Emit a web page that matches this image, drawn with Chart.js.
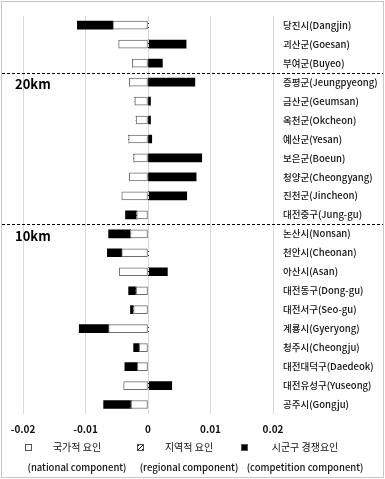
<!DOCTYPE html>
<html>
<head>
<meta charset="utf-8">
<script src="https://cdn.jsdelivr.net/npm/chart.js@4"></script>
<style>
  html, body { margin: 0; padding: 0; background: #fff; }
  #wrap { position: relative; width: 385px; height: 479px; }
</style>
</head>
<body>
<div id="wrap"><canvas id="chart"></canvas></div>
<script>
// data
const regions = [
  "당진시(Dangjin)", "괴산군(Goesan)", "부여군(Buyeo)", "증평군(Jeungpyeong)",
  "금산군(Geumsan)", "옥천군(Okcheon)", "예산군(Yesan)", "보은군(Boeun)",
  "청양군(Cheongyang)", "진천군(Jincheon)", "대전중구(Jung-gu)", "논산시(Nonsan)",
  "천안시(Cheonan)", "아산시(Asan)", "대전동구(Dong-gu)", "대전서구(Seo-gu)",
  "계룡시(Gyeryong)", "청주시(Cheongju)", "대전대덕구(Daedeok)", "대전유성구(Yuseong)",
  "공주시(Gongju)"
];
const national = [
  -0.0056, -0.0047, -0.0025, -0.0030, -0.0021, -0.0019, -0.0031, -0.0023,
  -0.0030, -0.0042, -0.0018, -0.0028, -0.0042, -0.0046, -0.0019, -0.0023,
  -0.0063, -0.0014, -0.0017, -0.0039, -0.0027
];
const regional = [
  0.0001, 0.0001, 0, 0, 0, 0, 0, 0,
  0, 0.0001, 0, 0, 0.0001, 0.0001, 0, 0,
  0.0001, 0, 0, 0.0001, 0
];
const competition = [
  -0.0057, 0.0060, 0.0023, 0.0075, 0.0004, 0.0004, 0.0006, 0.0086,
  0.0077, 0.0061, -0.0018, -0.0035, -0.0023, 0.0030, -0.0012, -0.0005,
  -0.0047, -0.0009, -0.0020, 0.0037, -0.0044
];
const xTicks = [-0.02, -0.01, 0, 0.01, 0.02];
const groupBreaks = [2.5, 10.5];
const groupLabels = [["20km", 3], ["10km", 11]];
const legendKo = ["국가적 요인", "지역적 요인", "시군구 경쟁요인"];
const legendEn = ["(national component)", "(regional component)", "(competition component)"];

const FONT = "'Noto Sans CJK KR', 'Noto Sans', sans-serif";

// hatch fill for the regional component
function makeHatch() {
  const c = document.createElement("canvas");
  c.width = 4; c.height = 4;
  const g = c.getContext("2d");
  g.fillStyle = "#fff";
  g.fillRect(0, 0, 4, 4);
  g.strokeStyle = "#000";
  g.lineWidth = 1;
  g.beginPath();
  g.moveTo(0, 4); g.lineTo(4, 0);
  g.stroke();
  return g.createPattern(c, "repeat");
}
const hatch = makeHatch();

const extras = {
  id: "extras",
  afterDraw(chart) {
    const ctx = chart.ctx;
    const y = chart.scales.y;
    ctx.save();
    // outer frame
    ctx.strokeStyle = "#c8c8c8";
    ctx.lineWidth = 1;
    ctx.strokeRect(1.5, 1.5, 382, 476);
    // group separators
    ctx.strokeStyle = "#000";
    ctx.setLineDash([3, 2]);
    groupBreaks.forEach(b => {
      const py = Math.round(y.getPixelForValue(b)) + 0.5;
      ctx.beginPath();
      ctx.moveTo(2, py);
      ctx.lineTo(383, py);
      ctx.stroke();
    });
    ctx.setLineDash([]);
    ctx.fillStyle = "#000";
    ctx.font = "bold 13px " + FONT;
    ctx.textBaseline = "middle";
    ctx.textAlign = "left";
    groupLabels.forEach(([t, i]) => {
      ctx.fillText(t, 15, y.getPixelForValue(i) + 2);
    });
    // legend
    const centers = [77, 189, 305];
    const boxes = [28, 140, 244];
    const fills = ["#fff", hatch, "#000"];
    centers.forEach((cx, i) => {
      ctx.fillStyle = fills[i];
      ctx.fillRect(boxes[i] - 3, 444, 7, 7);
      ctx.strokeStyle = "#555";
      ctx.strokeRect(boxes[i] - 2.5, 444.5, 6, 6);
      ctx.fillStyle = "#111";
      ctx.textAlign = "center";
      ctx.font = "10px " + FONT;
      ctx.fillText(legendKo[i], cx, 447);
      ctx.font = "500 9.5px " + FONT;
      ctx.fillText(legendEn[i], cx, 467);
    });
    ctx.restore();
  }
};

new Chart(document.getElementById("chart").getContext("2d"), {
  type: "bar",
  data: {
    labels: regions,
    datasets: [
      {
        label: "national",
        data: national,
        backgroundColor: "#fff",
        borderColor: "#6e6e6e",
        borderWidth: 1,
        borderSkipped: false,
        barThickness: 8
      },
      {
        label: "regional",
        data: regional,
        backgroundColor: hatch,
        borderWidth: 0,
        barThickness: 8
      },
      {
        label: "competition",
        data: competition,
        backgroundColor: "#000",
        borderWidth: 0,
        barThickness: 8
      }
    ]
  },
  options: {
    indexAxis: "y",
    responsive: true,
    maintainAspectRatio: false,
    animation: false,
    layout: { padding: { left: 23, top: 10, right: 0, bottom: 41 } },
    plugins: {
      legend: { display: false },
      tooltip: { enabled: false }
    },
    scales: {
      x: {
        stacked: true,
        min: -0.02,
        max: 0.02,
        afterBuildTicks: s => { s.ticks = xTicks.map(v => ({ value: v })); },
        afterFit: s => { s.height = 24; },
        ticks: {
          padding: 9,
          color: "#111",
          font: { family: FONT, size: 10, weight: "bold" },
          callback: v => (v === 0 ? "0" : String(+v.toFixed(2)))
        },
        grid: { color: "#d9d9d9", drawTicks: false },
        border: { display: false }
      },
      y: {
        stacked: true,
        position: "right",
        afterFit: s => { s.width = 112; },
        ticks: {
          padding: 10,
          color: "#111",
          font: { family: FONT, size: 9.5, weight: "500" }
        },
        grid: { display: false, drawTicks: false },
        border: { display: false }
      }
    }
  },
  plugins: [extras]
});
</script>
</body>
</html>
